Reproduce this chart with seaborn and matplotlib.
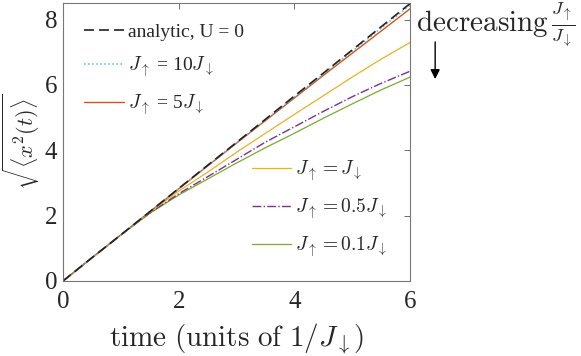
import matplotlib.pyplot as plt
import seaborn as sns
import pandas as pd
import numpy as np

# ── Data ─────────────────────────────────────────────────
t = [0, 0.5, 1, 1.5, 2, 2.5, 3, 3.5, 4, 4.5, 5, 5.5, 6]
analytic = [0, 0.71, 1.41, 2.12, 2.83, 3.54, 4.24, 4.95, 5.66, 6.36, 7.07, 7.78, 8.49]
j10 = [0, 0.71, 1.41, 2.12, 2.83, 3.53, 4.23, 4.93, 5.63, 6.33, 7.03, 7.74, 8.44]
j5 = [0, 0.71, 1.41, 2.12, 2.82, 3.52, 4.22, 4.91, 5.60, 6.29, 6.97, 7.65, 8.33]
j1 = [0, 0.71, 1.41, 2.10, 2.75, 3.33, 3.94, 4.52, 5.10, 5.67, 6.24, 6.79, 7.30]
j05 = [0, 0.71, 1.41, 2.08, 2.67, 3.19, 3.72, 4.25, 4.72, 5.19, 5.64, 6.05, 6.42]
j01 = [0, 0.71, 1.41, 2.07, 2.63, 3.12, 3.61, 4.08, 4.52, 4.98, 5.42, 5.85, 6.24]

labels = [r'analytic, U = 0',
          r'$J_{\uparrow}$ = 10$J_{\downarrow}$',
          r'$J_{\uparrow}$ = 5$J_{\downarrow}$',
          r'$J_{\uparrow} = J_{\downarrow}$',
          r'$J_{\uparrow} = 0.5J_{\downarrow}$',
          r'$J_{\uparrow} = 0.1J_{\downarrow}$']
series = [analytic, j10, j5, j1, j05, j01]
colors = ['#222222', '#4DBEEE', '#D95319', '#EDB120', '#7E2F8E', '#77AC30']
styles = [(0, (6, 3)), ':', '-', '-', '-.', '-']
widths = [1.2, 1.1, 1.0, 0.9, 1.0, 0.9]

sns.set_theme(style='white')
plt.rcParams['font.family'] = ['Liberation Serif', 'DejaVu Serif']
plt.rcParams['mathtext.fontset'] = 'cm'

fig = plt.figure(figsize=(5.81, 3.56), dpi=100)
ax = fig.add_axes([0.1084, 0.2107, 0.5973, 0.78])

# draw in reverse so analytic sits on top
for i in reversed(range(len(series))):
    df = pd.DataFrame({'t': t, 'y': series[i]})
    sns.lineplot(data=df, x='t', y='y', ax=ax, color=colors[i],
                 linestyle=styles[i], linewidth=widths[i])
lines = ax.get_lines()[::-1]

ax.set_xlim(0, 6)
ax.set_ylim(0, 8.5)
ax.set_xticks([0, 2, 4, 6])
ax.set_yticks([0, 2, 4, 6, 8])
ax.tick_params(direction='in', length=4, width=0.6, color='#555555',
               labelsize=18, top=True, right=True)
ax.tick_params(axis='x', pad=7)
ax.tick_params(axis='y', pad=4)
for s in ax.spines.values():
    s.set_color('#777777')
    s.set_linewidth(0.8)

ax.set_xlabel(r'$\mathrm{time\ (units\ of\ }1/J_{\downarrow})$', fontsize=21, labelpad=6)
ax.set_ylabel(r'$\sqrt{\langle x^2(t)\rangle}$', fontsize=16, labelpad=2)

leg1 = ax.legend(lines[:3], labels[:3], loc='upper left', frameon=False,
                 fontsize=14, handlelength=2.05, handletextpad=0.2,
                 labelspacing=0.7, borderaxespad=0.0, bbox_to_anchor=(0.038, 0.955))
ax.add_artist(leg1)
ax.legend(lines[3:], labels[3:], loc='lower right', frameon=False,
          fontsize=14, handlelength=2.05, handletextpad=0.2,
          labelspacing=0.7, borderaxespad=0.0, bbox_to_anchor=(0.957, 0.05))

fig.text(0.716, 0.935, r'$\mathrm{decreasing}$', fontsize=21, va='center', ha='left')
fig.text(0.99, 0.93, r'$\frac{J_{\uparrow}}{J_{\downarrow}}$', fontsize=19,
         va='center', ha='right')
fig.add_artist(plt.Annotation('', xy=(0.749, 0.77), xytext=(0.749, 0.89),
                              xycoords='figure fraction',
                              arrowprops=dict(arrowstyle='-|>', color='black',
                                              lw=1.0, mutation_scale=14)))

plt.savefig('out.png', dpi=100)
